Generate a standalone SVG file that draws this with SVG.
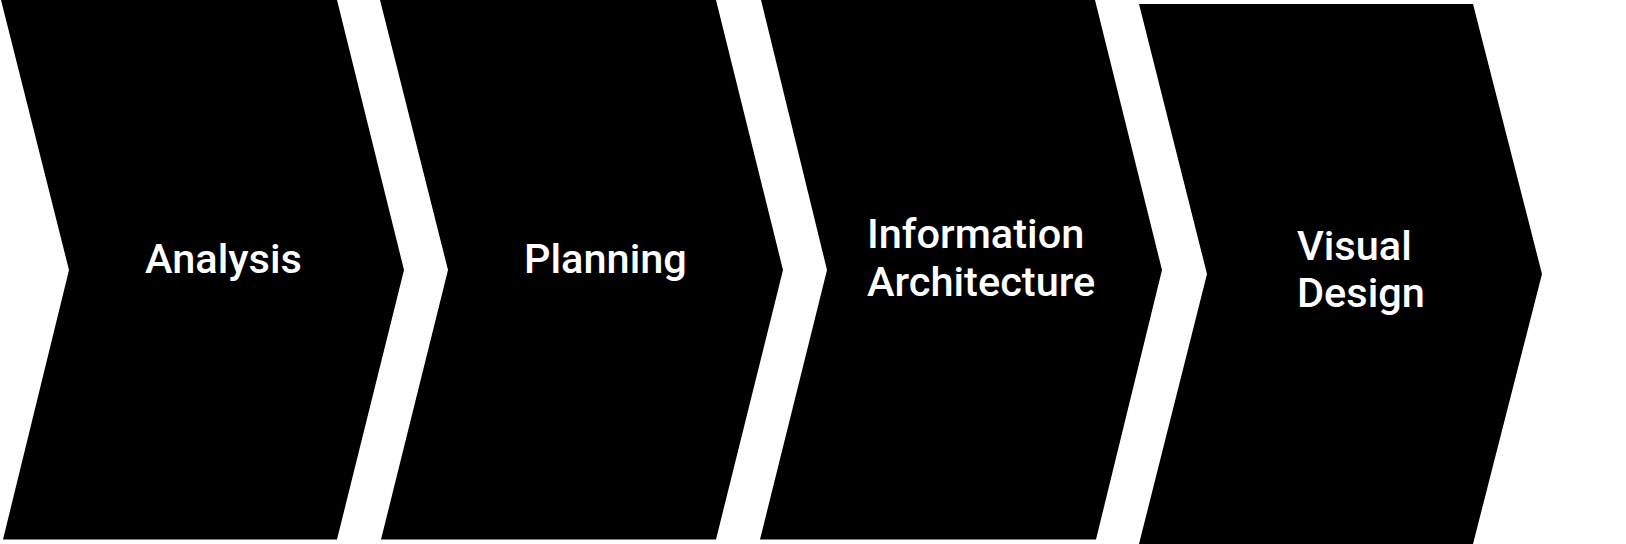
<svg xmlns="http://www.w3.org/2000/svg" width="1626" height="544" viewBox="0 0 1626 544">
<style>
.chev{fill:#000;}
.lbl{fill:#fff;font-family:Roboto,"Liberation Sans",sans-serif;font-size:41.5px;font-weight:500;}
</style>
<rect width="1626" height="544" fill="#fff"/>
<g id="node-analysis">
<path class="chev" d="M1,0 L337,0 L404,270 L337,539.5 L3,539.5 L69,270 Z"/>
<text class="lbl" x="145" y="273">Analysis</text>
</g>
<g id="node-planning">
<path class="chev" d="M380,0 L716,0 L783,270 L716,539.5 L381,539.5 L448,270 Z"/>
<text class="lbl" x="524" y="273">Planning</text>
</g>
<g id="node-ia">
<path class="chev" d="M761,0 L1095,0 L1162,270 L1096,539.5 L760,539.5 L827,270 Z"/>
<text class="lbl" x="867" y="248">Information</text>
<text class="lbl" x="867" y="296">Architecture</text>
</g>
<g id="node-visual">
<path class="chev" d="M1139,4 L1473,4 L1542,274 L1473,544 L1139,544 L1207,274 Z"/>
<text class="lbl" x="1297" y="260">Visual</text>
<text class="lbl" x="1297" y="307">Design</text>
</g>
<g id="connectors"></g>
</svg>
